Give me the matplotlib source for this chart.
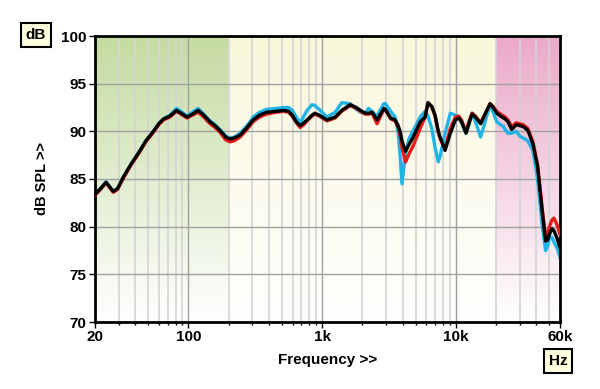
import matplotlib
matplotlib.use("Agg")
import matplotlib.pyplot as plt
from matplotlib.colors import to_rgb
from matplotlib.ticker import FixedLocator, NullFormatter
import numpy as np

plt.rcParams['font.family'] = ['Liberation Sans', 'DejaVu Sans']
plt.rcParams['font.weight'] = 'bold'

# frequency grid (Hz) shared by the three traces
freq = [20, 22, 24.2, 26, 27.4, 29.5, 32.6, 37, 43.5, 48, 54.7, 60, 65, 72.6, 81.3, 88, 97.5,
        107, 118, 130, 145, 158, 172, 190, 204, 220, 243, 270, 289, 304, 340, 383, 450, 514,
        560, 597, 640, 684, 730, 770, 840, 880, 950, 1085, 1250, 1400, 1620, 1800, 1930, 2100,
        2220, 2360, 2570, 2890, 2970, 3250, 3510, 3700, 3820, 3950, 4200, 4450, 4800, 5400,
        5880, 6180, 6600, 6980, 7380, 7620, 8290, 9080, 9900, 10500, 11000, 11900, 12500,
        13200, 14000, 15300, 16500, 18000, 19000, 20200, 21500, 22700, 23300, 24500, 26100,
        28300, 30000, 31800, 34500, 37600, 40800, 44300, 46800, 48500, 50000, 52200, 54000,
        57000, 60000]

spl_black = [83.4, 84.0, 84.65, 84.1, 83.7, 84.0, 85.2, 86.5, 88.0, 89.0, 90.0, 90.8, 91.3, 91.6,
             92.2, 91.9, 91.5, 91.8, 92.2, 91.7, 91.0, 90.6, 90.1, 89.4, 89.2, 89.3, 89.6, 90.3,
             90.8, 91.2, 91.7, 92.0, 92.1, 92.2, 92.1, 91.7, 91.0, 90.6, 90.9, 91.2, 91.7, 91.9,
             91.7, 91.2, 91.5, 92.2, 92.8, 92.5, 92.2, 91.9, 91.9, 92.0, 91.2, 92.4, 92.3, 91.4,
             91.2, 90.6, 90.0, 89.0, 87.9, 88.6, 89.4, 91.0, 91.5, 93.0, 92.6, 91.7, 90.0, 89.4,
             88.0, 89.8, 91.2, 91.4, 91.0, 89.8, 90.8, 91.8, 91.5, 90.8, 91.8, 92.9, 92.5, 91.9,
             91.6, 91.4, 91.3, 91.0, 90.2, 90.7, 90.6, 90.5, 90.1, 88.7, 86.3, 81.4, 78.5, 78.6,
             79.2, 79.8, 79.6, 78.8, 77.8]

spl_red = [83.3, 83.9, 84.6, 84.0, 83.6, 83.9, 85.1, 86.4, 87.9, 88.9, 89.9, 90.7, 91.2, 91.5,
           92.1, 91.8, 91.4, 91.7, 92.0, 91.5, 90.8, 90.4, 89.9, 89.1, 88.9, 89.0, 89.4, 90.1,
           90.6, 91.0, 91.5, 91.8, 92.0, 92.1, 92.0, 91.6, 90.9, 90.4, 90.7, 91.1, 91.6, 91.8,
           91.6, 91.1, 91.4, 92.1, 92.7, 92.4, 92.1, 91.8, 91.8, 91.9, 90.8, 92.3, 92.2, 91.3,
           91.1, 90.4, 89.6, 88.3, 86.8, 87.6, 88.5, 90.3, 91.5, 93.0, 92.6, 91.6, 89.9, 89.2,
           88.2, 90.3, 91.5, 91.6, 91.2, 90.0, 91.0, 91.9, 91.6, 90.9, 91.8, 92.9, 92.6, 92.1,
           91.8, 91.6, 91.5, 91.2, 90.5, 90.9, 90.8, 90.7, 90.3, 88.9, 86.5, 81.8, 79.0, 79.3,
           80.0, 80.7, 80.9, 80.2, 79.2]

spl_cyan = [83.4, 84.0, 84.7, 84.1, 83.7, 84.0, 85.2, 86.5, 88.0, 89.0, 90.0, 90.8, 91.3, 91.7,
            92.4, 92.1, 91.6, 92.0, 92.4, 91.8, 91.1, 90.7, 90.2, 89.5, 89.3, 89.4, 89.8, 90.5,
            91.0, 91.5, 92.0, 92.3, 92.4, 92.5, 92.5, 92.2, 91.5, 90.9, 91.6, 92.2, 92.8, 92.7,
            92.3, 91.5, 92.0, 93.0, 92.9, 92.3, 92.0, 91.9, 92.4, 92.1, 91.6, 92.9, 92.9, 92.1,
            91.5, 89.8, 87.5, 84.5, 87.7, 89.2, 90.1, 91.5, 92.1, 91.6, 90.3, 88.3, 86.8, 87.4,
            89.8, 91.9, 91.7, 91.5, 90.9, 89.8, 90.7, 91.9, 91.0, 89.4, 91.0, 92.8, 92.0, 91.0,
            90.7, 90.5, 90.2, 89.8, 89.8, 90.0, 89.5, 89.3, 89.0, 88.0, 85.0, 80.0, 77.5, 78.0,
            78.8, 78.9, 78.4, 77.8, 76.8]

# shaded frequency bands (Hz) and their colour at the top of the plot
bands = [(20, 200, '#c4dba0'), (200, 20000, '#f9f7da'), (20000, 60000, '#eba9c9')]

x_ticks = [20, 100, 1000, 10000, 60000]
x_labels = ['20', '100', '1k', '10k', '60k']
y_ticks = [70, 75, 80, 85, 90, 95, 100]

fig = plt.figure(figsize=(6, 3.89), dpi=100)
ax = fig.add_axes([95 / 600, 67 / 389, 465 / 600, 286 / 389])
ax.set_xscale('log')

# vertical gradients, colour at top fading to white at bottom
t = np.linspace(0, 1, 256)[:, None]
for f0, f1, col in bands:
    rgb = np.array(to_rgb(col))
    img = (1 - t) * np.array([1.0, 1.0, 1.0]) + t * rgb
    ax.imshow(img[:, None, :], extent=(f0, f1, 70, 100), origin='lower',
              aspect='auto', interpolation='bilinear', zorder=0)

ax.plot(freq, spl_cyan, color='#1fb4e6', lw=2.4, zorder=2)
ax.plot(freq, spl_red, color='#e41b17', lw=2.4, zorder=3)
ax.plot(freq, spl_black, color='black', lw=2.4, zorder=4)

ax.set_xlim(20, 60000)
ax.set_ylim(70, 100)

minor = [m * 10 ** e for e in range(1, 5) for m in range(2, 10)]
minor = [m for m in minor if 20 < m < 60000]
ax.xaxis.set_major_locator(FixedLocator(x_ticks))
ax.xaxis.set_minor_locator(FixedLocator(minor))
ax.xaxis.set_minor_formatter(NullFormatter())
ax.set_xticklabels(x_labels)
ax.set_yticks(y_ticks)

ax.set_axisbelow(True)
ax.xaxis.grid(True, which='major', color='#a0a0a0', lw=1.0)
ax.xaxis.grid(True, which='minor', color='#d4d4d4', lw=1.2)
ax.yaxis.grid(True, which='major', color='#a0a0a0', lw=1.0)

ax.tick_params(axis='both', which='major', direction='out', length=4, width=1,
               labelsize=11, pad=2)
ax.tick_params(axis='x', which='minor', direction='out', length=2, width=1)
for s in ax.spines.values():
    s.set_linewidth(2)

ax.set_xlabel('Frequency >>', fontsize=11, fontweight='bold', labelpad=6)
ax.set_ylabel('dB SPL >>', fontsize=10.5, fontweight='bold', labelpad=9)

box = dict(boxstyle='square,pad=0.3', facecolor='#ffffe0', edgecolor='black', lw=1.5)
fig.text(36 / 600, 1 - 35 / 389, 'dB', fontsize=11, fontweight='bold',
         ha='center', va='center', bbox=box)
fig.text(558 / 600, 1 - 361 / 389, 'Hz', fontsize=11, fontweight='bold',
         ha='center', va='center', bbox=box)

fig.savefig('out.png', dpi=100)
